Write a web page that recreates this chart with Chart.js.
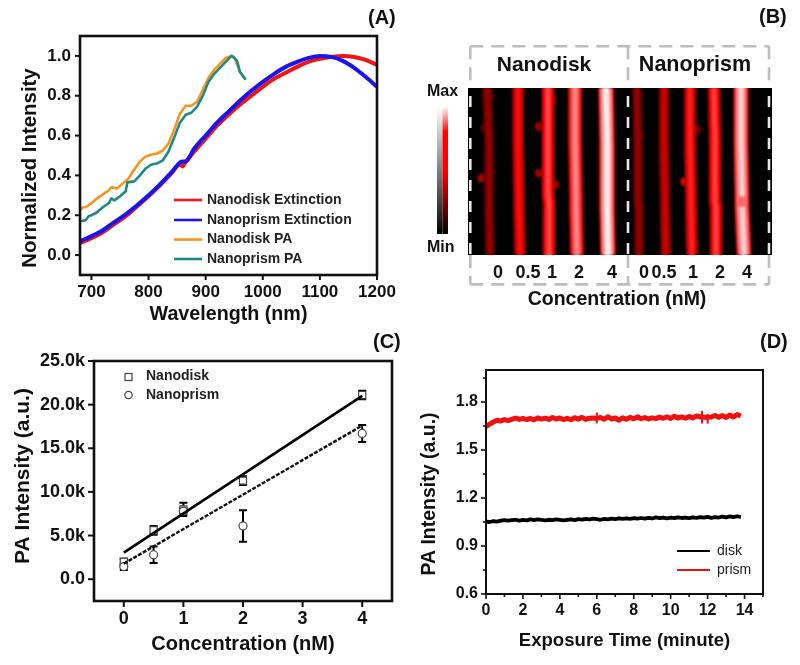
<!DOCTYPE html>
<html>
<head>
<meta charset="utf-8">
<title>Photoacoustic panels</title>
<script src="https://cdn.jsdelivr.net/npm/chart.js@4"></script>
<style>
  html, body { margin: 0; padding: 0; background: #fff; }
  #page { position: relative; width: 800px; height: 665px; overflow: hidden; }
  #page canvas { position: absolute; filter: blur(0.6px); }
</style>
</head>
<body>
<div id="page">
  <canvas id="panelA"></canvas>
  <canvas id="panelB"></canvas>
  <canvas id="panelC"></canvas>
  <canvas id="panelD"></canvas>
</div>
<script>
// Panel A
const wlDiskExt = [680,700,720,740,760,780,800,820,840,855,860,862,880,900,920,940,960,980,1000,1020,1040,1060,1080,1100,1120,1140,1160,1180,1200];
const diskExt = [0.06,0.085,0.115,0.155,0.195,0.245,0.295,0.35,0.41,0.455,0.445,0.455,0.52,0.585,0.65,0.705,0.755,0.80,0.845,0.885,0.915,0.945,0.97,0.985,0.995,1.0,0.995,0.98,0.955];
const wlPrismExt = [680,700,720,740,760,780,800,820,840,855,860,865,880,900,920,940,960,980,1000,1020,1040,1060,1080,1100,1120,1140,1160,1180,1200];
const prismExt = [0.07,0.095,0.125,0.165,0.205,0.25,0.30,0.355,0.415,0.465,0.47,0.47,0.535,0.60,0.665,0.72,0.775,0.825,0.87,0.91,0.945,0.97,0.99,1.0,0.995,0.975,0.94,0.895,0.845];
const wlDiskPA = [680,685,690,700,710,720,730,735,745,755,765,775,785,795,805,815,825,835,845,855,865,875,885,895,905,915,925,935,945,950,960,970];
const diskPA = [0.225,0.24,0.24,0.26,0.285,0.305,0.325,0.34,0.335,0.36,0.385,0.43,0.47,0.495,0.505,0.51,0.525,0.56,0.63,0.71,0.75,0.75,0.77,0.83,0.89,0.93,0.96,0.99,1.0,0.995,0.92,0.88];
const wlPrismPA = [680,690,695,700,710,720,730,735,740,750,760,763,775,785,795,805,815,825,835,845,855,865,875,885,895,905,915,925,935,945,950,955,960,970];
const prismPA = [0.17,0.175,0.195,0.2,0.215,0.24,0.26,0.285,0.275,0.295,0.32,0.365,0.37,0.40,0.435,0.455,0.46,0.475,0.52,0.59,0.665,0.705,0.715,0.745,0.80,0.87,0.91,0.94,0.97,1.0,0.99,0.975,0.92,0.88];
const aXTicks = [700,800,900,1000,1100,1200];
const aYTicks = [0,0.2,0.4,0.6,0.8,1.0];
const aLegend = ['Nanodisk Extinction','Nanoprism Extinction','Nanodisk PA','Nanoprism PA'];

// Panel B: x in lane position along the strip, y in percent of strip height
const stripeRows = [0,33,65,68,71,100];
const stripeCentres = [
  [19,21,21,21,21,22],
  [50,50,51,51,51,52],
  [80,80,80,81,81,81],
  [107,107,108,108,108,109],
  [138,139,139,139,139,140],
  [169,170,170,170,171,171],
  [196,196,197,197,197,198],
  [222,222,223,223,223,224],
  [246,247,247,247,248,248],
  [273,273,274,274,274,276]
];
const stripeLevels = [0.30,0.52,0.64,0.76,0.96,0.30,0.40,0.56,0.62,0.90];
const blobX = [21,21,17,21,14,71,71,87,84,217,171,246,229,197,171];
const blobY = [50,5,24,33,54,23,51,58,7,56,29,57,25,85,89];
const blobLevel = [0.46,0.36,0.22,0.30,0.34,0.30,0.30,0.30,0.30,0.48,0.32,0.40,0.22,0.32,0.26];
const bTickX = [30,60,84,111,144,176,196,225,252,279];
const bTickLabels = ['0','0.5','1','2','4','0','0.5','1','2','4'];
const frameX = [2.3,160,301];
const frameY = [-25,117.6];

// Panel C
const concDisk = [0,0.5,1,2,4];
const diskPAk = [2000,5600,8000,11300,21100];
const diskErr = [350,500,750,500,480];
const concPrism = [0,0.5,1,2,4];
const prismPAk = [1450,2800,7800,6100,16700];
const prismErr = [400,950,300,1800,970];
const fitConc = [0,4];
const fitDisk = [3050,21000];
const fitPrism = [1780,17600];
const cXTicks = [0,1,2,3,4];
const cYTicks = [0,5000,10000,15000,20000,25000];

// Panel D
const exposureTime = [0,0.2,0.4,0.6,0.8,1.0,1.2,1.4,1.6,1.8,2.0,2.2,2.4,2.6,2.8,3.0,3.2,3.4,3.6,3.8,4.0,4.2,4.4,4.6,4.8,5.0,5.2,5.4,5.6,5.8,6.0,6.2,6.4,6.6,6.8,7.0,7.2,7.4,7.6,7.8,8.0,8.2,8.4,8.6,8.8,9.0,9.2,9.4,9.6,9.8,10.0,10.2,10.4,10.6,10.8,11.0,11.2,11.4,11.6,11.8,12.0,12.2,12.4,12.6,12.8,13.0,13.2,13.4,13.6,13.8];
const prismSignal = [1.645,1.662,1.675,1.686,1.681,1.690,1.684,1.692,1.700,1.691,1.698,1.690,1.697,1.688,1.701,1.693,1.699,1.691,1.703,1.694,1.700,1.690,1.698,1.689,1.702,1.693,1.704,1.691,1.699,1.700,1.698,1.703,1.692,1.708,1.694,1.700,1.686,1.702,1.692,1.704,1.695,1.707,1.696,1.703,1.694,1.701,1.696,1.706,1.698,1.708,1.697,1.711,1.700,1.707,1.699,1.710,1.700,1.712,1.708,1.705,1.704,1.706,1.716,1.704,1.715,1.703,1.719,1.706,1.722,1.712];
const diskSignal = [1.052,1.050,1.056,1.053,1.058,1.062,1.058,1.061,1.064,1.059,1.063,1.060,1.066,1.062,1.067,1.063,1.060,1.064,1.062,1.066,1.063,1.060,1.064,1.067,1.062,1.068,1.065,1.070,1.066,1.071,1.068,1.064,1.069,1.066,1.071,1.068,1.072,1.069,1.073,1.070,1.074,1.071,1.075,1.071,1.076,1.072,1.079,1.074,1.078,1.073,1.077,1.074,1.079,1.075,1.078,1.074,1.079,1.076,1.080,1.077,1.082,1.076,1.081,1.078,1.084,1.079,1.085,1.080,1.086,1.081];
// short single readings that stick out of the red trace
const spikeTime = [6.0,6.0,null,11.7,11.7,null,12.0,12.0];
const spikeSignal = [1.665,1.735,null,1.665,1.745,null,1.665,1.725];
const dXTicks = [0,2,4,6,8,10,12,14];
const dXMinor = [1,3,5,7,9,11,13,15];
const dYTicks = [0.6,0.9,1.2,1.5,1.8];
const dYMinor = [0.75,1.05,1.35,1.65,1.95];
const dLegend = ['disk','prism'];

const FONT = '"Liberation Sans", Arial, sans-serif';
const INK = '#111';

function pts(xs, ys) {
  return xs.map((x, i) => ({ x: x, y: ys[i] }));
}

function boldFont(size) {
  return { family: FONT, size: size, weight: 'bold' };
}

function label(ctx, text, x, y, size, align, weight, color) {
  ctx.save();
  ctx.font = (weight || 'bold') + ' ' + size + 'px ' + FONT;
  ctx.fillStyle = color || INK;
  ctx.textAlign = align || 'left';
  ctx.textBaseline = 'middle';
  ctx.fillText(text, x, y);
  ctx.restore();
}

function sideLabel(ctx, text, x, y, size) {
  ctx.save();
  ctx.translate(x, y);
  ctx.rotate(-Math.PI / 2);
  label(ctx, text, 0, 0, size, 'center');
  ctx.restore();
}

// black through red to white, same ramp as the colour bar
function levelColor(t) {
  t = Math.max(0, Math.min(1, t));
  if (t < 0.5) {
    return 'rgb(' + Math.round(t * 2 * 255) + ',0,0)';
  }
  const w = Math.round((t - 0.5) * 2 * 255);
  return 'rgb(255,' + w + ',' + w + ')';
}

// frame and tick marks, the tick marks follow the scales
const axisFrame = {
  id: 'axisFrame',
  afterDraw(chart, args, opts) {
    if (!opts.enabled) return;
    const ctx = chart.ctx;
    const a = chart.chartArea;
    const sx = chart.scales.x;
    const sy = chart.scales.y;
    ctx.save();
    ctx.strokeStyle = '#111';
    ctx.lineWidth = opts.tickWidth;
    const tick = (x1, y1, x2, y2) => {
      ctx.beginPath();
      ctx.moveTo(x1, y1);
      ctx.lineTo(x2, y2);
      ctx.stroke();
    };
    sx.ticks.forEach(t => { const p = sx.getPixelForValue(t.value); tick(p, a.bottom, p, a.bottom + opts.major); });
    sy.ticks.forEach(t => { const p = sy.getPixelForValue(t.value); tick(a.left, p, a.left - opts.major, p); });
    (opts.xMinor || []).forEach(v => { const p = sx.getPixelForValue(v); tick(p, a.bottom, p, a.bottom + opts.minor); });
    (opts.yMinor || []).forEach(v => { const p = sy.getPixelForValue(v); tick(a.left, p, a.left - opts.minor, p); });
    ctx.lineWidth = opts.frameWidth;
    ctx.strokeRect(a.left, a.top, a.right - a.left, a.bottom - a.top);
    ctx.restore();
  }
};

const errorBars = {
  id: 'errorBars',
  beforeDatasetsDraw(chart, args, opts) {
    if (!opts.sets) return;
    const ctx = chart.ctx;
    const sx = chart.scales.x;
    const sy = chart.scales.y;
    ctx.save();
    ctx.strokeStyle = '#000';
    ctx.lineWidth = 2;
    opts.sets.forEach(set => {
      set.x.forEach((x, i) => {
        const px = sx.getPixelForValue(x);
        const hi = sy.getPixelForValue(set.y[i] + set.err[i]);
        const lo = sy.getPixelForValue(set.y[i] - set.err[i]);
        ctx.beginPath();
        ctx.moveTo(px, hi); ctx.lineTo(px, lo);
        ctx.moveTo(px - 4, hi); ctx.lineTo(px + 4, hi);
        ctx.moveTo(px - 4, lo); ctx.lineTo(px + 4, lo);
        ctx.stroke();
      });
    });
    ctx.restore();
  }
};

// black strip behind the lanes, the lanes get a soft edge
const stripBackdrop = {
  id: 'stripBackdrop',
  beforeDatasetsDraw(chart, args, opts) {
    if (!opts.enabled) return;
    const a = chart.chartArea;
    chart.ctx.save();
    chart.ctx.fillStyle = '#000';
    chart.ctx.fillRect(a.left, a.top, a.right - a.left, a.bottom - a.top);
    chart.ctx.restore();
    chart.ctx.filter = 'blur(1.2px)';
  },
  afterDatasetsDraw(chart, args, opts) {
    if (opts.enabled) chart.ctx.filter = 'none';
  }
};

const panelNotes = {
  id: 'panelNotes',
  afterDraw(chart, args, opts) {
    if (opts.draw) opts.draw(chart.ctx, chart);
  }
};

Chart.register(axisFrame, errorBars, stripBackdrop, panelNotes);

function makePanel(id, box, area, datasets, scales, plugins, noYAxis) {
  const canvas = document.getElementById(id);
  canvas.width = box.w;
  canvas.height = box.h;
  canvas.style.left = box.x + 'px';
  canvas.style.top = box.y + 'px';
  scales.x.afterFit = s => { s.height = box.h - (area.bottom - box.y); };
  if (!noYAxis) scales.y.afterFit = s => { s.width = area.left - box.x; };
  return new Chart(canvas, {
    type: 'scatter',
    data: { datasets: datasets },
    options: {
      responsive: false,
      animation: false,
      layout: {
        padding: {
          top: area.top - box.y,
          right: box.x + box.w - area.right,
          left: noYAxis ? area.left - box.x : 0,
          bottom: 0
        }
      },
      scales: scales,
      plugins: Object.assign({ legend: { display: false }, tooltip: { enabled: false } }, plugins)
    }
  });
}

function numericAxis(min, max, tickValues, fontSize, padding, title, titleSize, titlePadding, fmt) {
  const axis = {
    type: 'linear',
    min: min,
    max: max,
    grid: { display: false, drawTicks: false },
    border: { display: false },
    afterBuildTicks: s => { s.ticks = tickValues.map(v => ({ value: v })); },
    ticks: { color: INK, padding: padding, autoSkip: false, maxRotation: 0, font: boldFont(fontSize), callback: fmt }
  };
  if (title) axis.title = { display: true, text: title, color: INK, font: boldFont(titleSize), padding: titlePadding };
  return axis;
}

function lineSet(data, color, width, order, extra) {
  return Object.assign({ data: data, showLine: true, borderColor: color, backgroundColor: color, borderWidth: width, pointRadius: 0, tension: 0, order: order, borderCapStyle: 'butt', borderJoinStyle: 'round' }, extra || {});
}

// ---------- A
const aColors = ['#f01414', '#1a14f0', '#f7941d', '#1f8a85'];
const aWidths = [4, 4, 2.6, 2.6];
const smooth = { cubicInterpolationMode: 'monotone' };
makePanel('panelA', { x: 0, y: 0, w: 412, h: 330 }, { left: 80, right: 377, top: 36, bottom: 275 }, [
  lineSet(pts(wlDiskExt, diskExt), aColors[0], aWidths[0], 4, smooth),
  lineSet(pts(wlPrismExt, prismExt), aColors[1], aWidths[1], 3, smooth),
  lineSet(pts(wlDiskPA, diskPA), aColors[2], aWidths[2], 2),
  lineSet(pts(wlPrismPA, prismPA), aColors[3], aWidths[3], 1)
], {
  x: numericAxis(680, 1200, aXTicks, 17, 7, 'Wavelength (nm)', 19.7, { top: 0, bottom: 4 }, v => v),
  y: numericAxis(-0.1, 1.1, aYTicks, 17, 9, null, 0, null, v => v.toFixed(1))
}, {
  axisFrame: { enabled: true, frameWidth: 2.6, tickWidth: 2, major: 5, minor: 3 },
  panelNotes: {
    draw(ctx) {
      aLegend.forEach((name, i) => {
        const y = [200, 220, 239.5, 259][i];
        ctx.save();
        ctx.strokeStyle = aColors[i];
        ctx.lineWidth = 2.6;
        ctx.beginPath(); ctx.moveTo(174, y); ctx.lineTo(202, y); ctx.stroke();
        ctx.restore();
        label(ctx, name, 207, y, 14, 'left', 'bold', '#222');
      });
      sideLabel(ctx, 'Normalized Intensity', 30, 168, 20.4);
      label(ctx, '(A)', 368, 18, 20);
    }
  }
});

// ---------- B
const stripeSets = [];
stripeCentres.forEach((xs, i) => {
  const lv = stripeLevels[i];
  const w = 5 + 8 * lv;
  stripeSets.push(lineSet(pts(xs, stripeRows), levelColor(lv * 0.42), w + 3, 3));
  stripeSets.push(lineSet(pts(xs, stripeRows), levelColor(lv * 0.78), w, 2));
  const core = xs.map((x, r) => ({ x: x, y: (i === 9 && r === 3) ? null : stripeRows[r] }));
  stripeSets.push(lineSet(core, levelColor(lv), w * 0.5, 1));
});
stripeSets.push({
  data: pts(blobX, blobY),
  pointRadius: 4.5,
  pointBackgroundColor: blobLevel.map(levelColor),
  pointBorderWidth: 0,
  order: 4
});

makePanel('panelB', { x: 420, y: 0, w: 380, h: 320 }, { left: 468, right: 772, top: 88, bottom: 255 }, stripeSets, {
  x: numericAxis(0, 304, bTickX, 18, 7, null, 0, null, (v, i) => bTickLabels[i]),
  y: { type: 'linear', min: 0, max: 100, reverse: true, display: false }
}, {
  stripBackdrop: { enabled: true },
  panelNotes: {
    draw(ctx, chart) {
      const a = chart.chartArea;
      const sx = chart.scales.x;
      const sy = chart.scales.y;
      const [fl, fm, fr] = frameX.map(v => sx.getPixelForValue(v));
      const ft = sy.getPixelForValue(frameY[0]);
      const fb = sy.getPixelForValue(frameY[1]);
      ctx.save();
      ctx.lineWidth = 2.6;
      ctx.strokeStyle = '#bdbdbd';
      ctx.setLineDash([13, 8]);
      [[fl, ft, fr, ft], [fl, fb, fr, fb], [fl, ft, fl, a.top], [fm, ft, fm, a.top], [fr, ft, fr, a.top],
       [fl, a.bottom, fl, fb], [fm, a.bottom, fm, fb], [fr, a.bottom, fr, fb]].forEach(s => {
        ctx.beginPath(); ctx.moveTo(s[0], s[1]); ctx.lineTo(s[2], s[3]); ctx.stroke();
      });
      ctx.strokeStyle = '#e8e8e8';
      ctx.setLineDash([11, 10]);
      [fl, fm, fr].forEach(x => {
        ctx.beginPath(); ctx.moveTo(x, a.top + 8); ctx.lineTo(x, a.bottom); ctx.stroke();
      });
      ctx.restore();

      // colour bar: grey half and red half
      const barL = sx.getPixelForValue(-31);
      const barR = sx.getPixelForValue(-20);
      const barT = sy.getPixelForValue(11.2);
      const barB = sy.getPixelForValue(87.4);
      const grey = ctx.createLinearGradient(0, barB, 0, barT);
      grey.addColorStop(0, '#000'); grey.addColorStop(1, '#fff');
      const red = ctx.createLinearGradient(0, barB, 0, barT);
      red.addColorStop(0, '#000'); red.addColorStop(0.5, '#f00'); red.addColorStop(0.8, '#f00'); red.addColorStop(1, '#fff');
      ctx.fillStyle = grey;
      ctx.fillRect(barL, barT, (barR - barL) / 2, barB - barT);
      ctx.fillStyle = red;
      ctx.fillRect((barL + barR) / 2, barT, (barR - barL) / 2, barB - barT);

      label(ctx, 'Max', 7, 92, 16);
      label(ctx, 'Min', 7, 248, 16);
      label(ctx, 'Nanodisk', 124, 65, 21, 'center');
      label(ctx, 'Nanoprism', 275, 65, 21.5, 'center');
      label(ctx, 'Concentration (nM)', 197, 300, 19.5, 'center');
      label(ctx, '(B)', 339, 17, 20);
    }
  }
}, true);

// ---------- C
const markerStroke = '#444';
makePanel('panelC', { x: 0, y: 330, w: 400, h: 335 }, { left: 94, right: 392, top: 361, bottom: 601 }, [
  { data: pts(concDisk, diskPAk), pointStyle: 'rect', pointRadius: 5, pointBackgroundColor: '#fff', pointBorderColor: markerStroke, pointBorderWidth: 1.2, order: 3 },
  { data: pts(concPrism, prismPAk), pointStyle: 'circle', pointRadius: 4, pointBackgroundColor: '#fff', pointBorderColor: markerStroke, pointBorderWidth: 1.2, order: 2 },
  lineSet(pts(fitConc, fitDisk), '#000', 2.6, 1),
  lineSet(pts(fitConc, fitPrism), '#111', 2.4, 1, { borderDash: [4, 1.5] })
], {
  x: numericAxis(-0.5, 4.5, cXTicks, 18, 7, 'Concentration (nM)', 20, { top: 0, bottom: 9 }, v => v),
  y: numericAxis(-2500, 25000, cYTicks, 18, 9, null, 0, null, v => v === 0 ? '0.0' : (v / 1000).toFixed(1) + 'k')
}, {
  axisFrame: { enabled: true, frameWidth: 2.6, tickWidth: 2, major: 6, minor: 3 },
  errorBars: { sets: [{ x: concDisk, y: diskPAk, err: diskErr }, { x: concPrism, y: prismPAk, err: prismErr }] },
  panelNotes: {
    draw(ctx) {
      ctx.save();
      ctx.strokeStyle = markerStroke;
      ctx.lineWidth = 1.2;
      ctx.strokeRect(125, 43.5, 7, 7);
      ctx.beginPath(); ctx.arc(128.5, 65, 3.7, 0, Math.PI * 2); ctx.stroke();
      ctx.restore();
      label(ctx, 'Nanodisk', 146, 46.5, 14, 'left', 'bold', '#222');
      label(ctx, 'Nanoprism', 146, 65, 14, 'left', 'bold', '#222');
      sideLabel(ctx, 'PA Intensity (a.u.)', 23, 146, 21);
      label(ctx, '(C)', 373, 12, 20);
    }
  }
});

// ---------- D
const dColors = ['#000', '#f01010'];
makePanel('panelD', { x: 410, y: 330, w: 390, h: 335 }, { left: 486, right: 763, top: 370, bottom: 594 }, [
  lineSet(pts(exposureTime, diskSignal), dColors[0], 3.8, 3),
  lineSet(pts(exposureTime, prismSignal), dColors[1], 5, 2),
  lineSet(pts(spikeTime, spikeSignal), dColors[1], 2, 1)
], {
  x: numericAxis(0, 15, dXTicks, 16, 7, 'Exposure Time (minute)', 18.6, { top: 0, bottom: 13 }, v => v),
  y: numericAxis(0.6, 2.0, dYTicks, 16, 8, null, 0, null, v => v.toFixed(1))
}, {
  axisFrame: { enabled: true, frameWidth: 2, tickWidth: 1.6, major: 5, minor: 3, xMinor: dXMinor, yMinor: dYMinor },
  panelNotes: {
    draw(ctx) {
      dLegend.forEach((name, i) => {
        const y = [221, 240][i];
        ctx.save();
        ctx.strokeStyle = dColors[i];
        ctx.lineWidth = 2;
        ctx.beginPath(); ctx.moveTo(267, y); ctx.lineTo(300, y); ctx.stroke();
        ctx.restore();
        label(ctx, name, 307, y, 14, 'left', 'normal', '#222');
      });
      sideLabel(ctx, 'PA Intensity (a.u.)', 20, 164, 19.5);
      label(ctx, '(D)', 350, 12, 20);
    }
  }
});
</script>
</body>
</html>
